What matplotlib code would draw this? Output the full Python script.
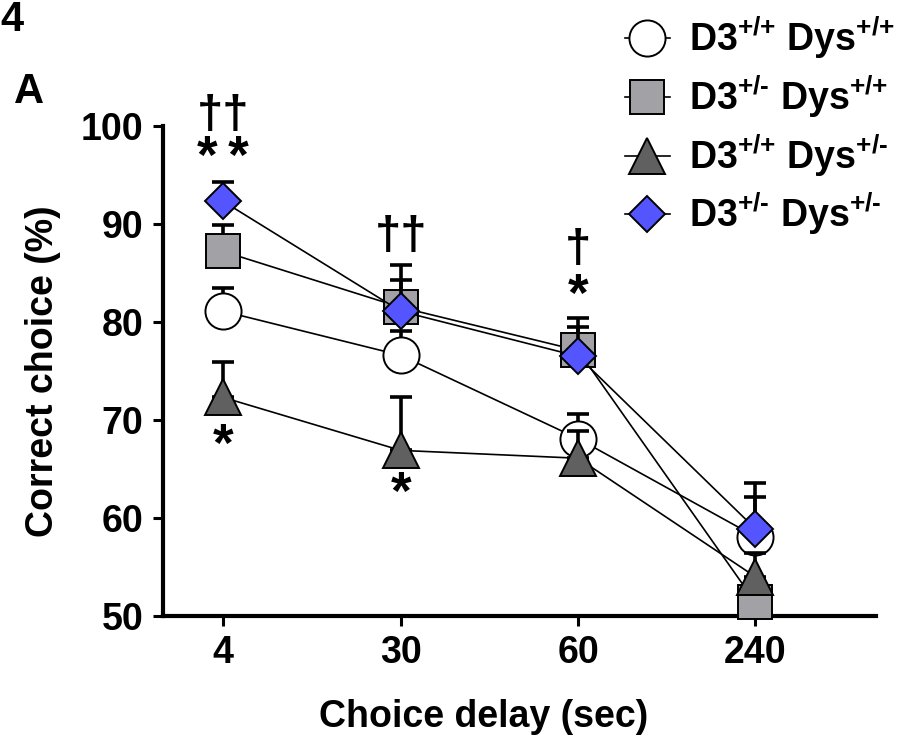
import numpy as np
import matplotlib.pyplot as plt

plt.rcParams['font.family'] = ['Liberation Sans', 'DejaVu Sans']
plt.rcParams['font.weight'] = 'bold'
plt.rcParams['mathtext.fontset'] = 'custom'
plt.rcParams['mathtext.rm'] = 'Liberation Sans:bold'
plt.rcParams['mathtext.bf'] = 'Liberation Sans:bold'
plt.rcParams['mathtext.default'] = 'bf'

# data
delays = ['4', '30', '60', '240']
groups = [r'D3$^{\text{+/+}}$ Dys$^{\text{+/+}}$', r'D3$^{\text{+/-}}$ Dys$^{\text{+/+}}$',
          r'D3$^{\text{+/+}}$ Dys$^{\text{+/-}}$', r'D3$^{\text{+/-}}$ Dys$^{\text{+/-}}$']
wt_wt = [81.1, 76.6, 68.1, 58.1]
wt_wt_sem = [2.4, 2.5, 2.5, 4.0]
het_wt = [87.2, 81.5, 77.1, 51.4]
het_wt_sem = [2.7, 4.3, 3.3, 1.5]
wt_het = [72.3, 66.9, 66.1, 54.0]
wt_het_sem = [3.6, 5.4, 2.8, 2.4]
het_het = [92.3, 81.1, 76.5, 58.9]
het_het_sem = [2.0, 3.2, 3.0, 4.7]

# significance marks: (x index, y, text)
marks = [(0, 101.0, '††'), (0, 96.6, '*\u2009*'), (0, 67.2, '*'),
         (1, 88.7, '††'), (1, 62.3, '*'),
         (2, 87.3, '†'), (2, 82.6, '*')]

series = [wt_wt, het_wt, wt_het, het_het]
sems = [wt_wt_sem, het_wt_sem, wt_het_sem, het_het_sem]
markers = ['o', 's', '^', 'D']
sizes = [26, 25, 26, 18.5]
fills = ['white', '#a2a2a6', '#606060', '#5555ff']

fig = plt.figure(figsize=(9.17, 7.48), dpi=100)
ax = fig.add_axes([0.1778, 0.1765, 0.7775, 0.655])

x = np.arange(len(delays))
handles = []
for i in range(4):
    y = np.array(series[i])
    e = np.array(sems[i])
    ax.errorbar(x, y, yerr=[np.zeros_like(e), e], fmt='none', ecolor='black',
                elinewidth=2.6, capsize=8, capthick=2.6, zorder=3 + 2 * i)
    h, = ax.plot(x, y, color='black', lw=1.2, marker=markers[i],
                 markersize=sizes[i], markerfacecolor=fills[i],
                 markeredgecolor='black', markeredgewidth=1.4,
                 zorder=4 + 2 * i, label=groups[i], clip_on=False)
    handles.append(h)

for xi, yi, t in marks:
    fs = 38 if t.startswith('*') else 34
    ax.text(xi, yi, t, ha='center', va='center', fontsize=fs,
            fontweight='bold', clip_on=False)

ax.set_xlim(-0.34, 3.68)
ax.set_ylim(50, 100)
ax.set_xticks(x)
ax.set_xticklabels(delays)
ax.set_yticks([50, 60, 70, 80, 90, 100])
for s in ['top', 'right']:
    ax.spines[s].set_visible(False)
for s in ['left', 'bottom']:
    ax.spines[s].set_linewidth(3)
ax.tick_params(axis='both', direction='out', length=7, width=2.2,
               labelsize=27, pad=7)
for lab in ax.get_xticklabels() + ax.get_yticklabels():
    lab.set_fontweight('bold')

ax.set_ylabel('Correct choice (%)', fontsize=27, fontweight='bold')
ax.yaxis.set_label_coords(-0.143, 0.5)
ax.set_xlabel('Choice delay (sec)', fontsize=27, fontweight='bold')
ax.xaxis.set_label_coords(0.449, -0.17)

fig.legend(handles=handles, loc='upper right', bbox_to_anchor=(1.0, 1.01),
           frameon=False, fontsize=27, handlelength=1.2, handletextpad=0.5,
           labelspacing=0.33, borderaxespad=0.2, numpoints=1)

fig.text(0.0, 1.0, '4', fontsize=30, fontweight='bold', ha='left', va='top')
fig.text(0.015, 0.85, 'A', fontsize=30, fontweight='bold', ha='left', va='bottom')

fig.savefig('out.png', dpi=100)
